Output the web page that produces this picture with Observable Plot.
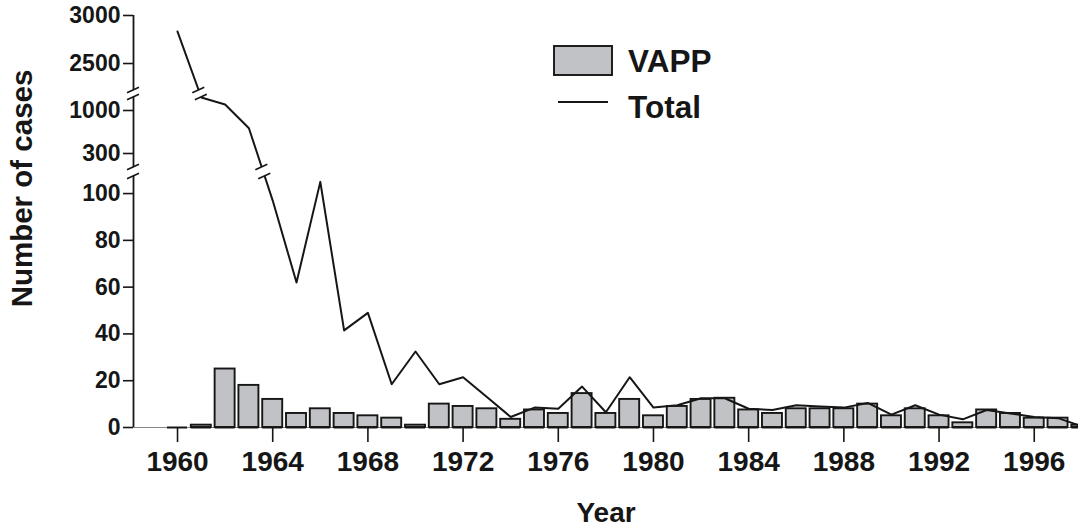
<!DOCTYPE html>
<html><head><meta charset="utf-8">
<script src="https://cdn.jsdelivr.net/npm/d3@7"></script>
<script src="https://cdn.jsdelivr.net/npm/@observablehq/plot@0.6"></script>
<style>
html,body{margin:0;padding:0;background:#fff;overflow:hidden;}
#chart svg{display:block;}
</style>
</head><body><div id="chart"></div>
<script>
// ---- data ----
const years = [1960,1961,1962,1963,1964,1965,1966,1967,1968,1969,
               1970,1971,1972,1973,1974,1975,1976,1977,1978,1979,
               1980,1981,1982,1983,1984,1985,1986,1987,1988,1989,
               1990,1991,1992,1993,1994,1995,1996,1997,1998];
const vapp  = [0,1,25,18,12,6,8,6,5,4,
               1,10,9,8,3.5,7.5,6,14.5,6,12,
               5,9,12,12.5,7.5,6,8,8,8,10,
               5,8,5,2,7.5,6,4,4,1];
const total = [2833,1300,1140,712,97,62,105,41.5,49,18.5,
               32.5,18.5,21.5,13,4.5,8.5,8,17.5,6.5,21.5,
               8.5,9.5,12.5,12.5,8,7.5,9.5,9,8.5,10.5,
               5.5,9.5,5.5,3.5,7.5,6,4.5,4,0.5];
const xTicks = [1960,1964,1968,1972,1976,1980,1984,1988,1992,1996];
const yTicks = [0,20,40,60,80,100,300,1000,2500,3000];
// broken axis: visible value segments and the gaps between them
const ySegments = [[0,107.3],[190,1300],[2219,3000]];
const yBreaks   = [[107.3,190],[1300,2219]];
const seriesNames = ["VAPP","Total"];

// value -> broken-axis units (piecewise axis design of the original)
const brk = d3.scaleLinear()
  .domain([0,107.3,190,300,1000,1300,2219,3000])
  .range([0,251,260,274,317,330,337,412]);

const data = years.map((year,i)=>({year, vapp: vapp[i], total: total[i]}));
const xDomain = [1958.15, 1997.86];
const ink = "#161616", barFill = "#c1c2c6";
const font = "'Liberation Sans', Arial, Helvetica, sans-serif";

const plot = Plot.plot({
  width: 1078, height: 527,
  marginLeft: 133, marginRight: 0, marginTop: 15, marginBottom: 100,
  style: {fontFamily: font, fontWeight: "bold", color: ink, background: "#fff", overflow: "hidden"},
  x: {domain: xDomain, axis: null},
  y: {domain: [brk(0), brk(3000)], axis: null},
  marks: [
    Plot.ruleY([0], {y: d=>brk(d), stroke: "#888", strokeWidth: 1.2}),
    Plot.rect(data, {x1: d=>d.year-0.42, x2: d=>d.year+0.42, y1: d=>brk(0), y2: d=>brk(d.vapp),
                     fill: barFill, stroke: ink, strokeWidth: 1.9}),
    Plot.ruleY(data, {x1: d=>d.year-0.42, x2: d=>d.year+0.42, y: d=>brk(0), stroke: ink, strokeWidth: 2}),
    Plot.line(data, {x: "year", y: d=>brk(d.total), stroke: ink, strokeWidth: 2}),
    Plot.rect(yBreaks, {x1: d=>xDomain[0]+0.03, x2: d=>xDomain[1], y1: d=>brk(d[0]), y2: d=>brk(d[1]), fill: "#fff"}),
    Plot.ruleX(ySegments, {x: d=>xDomain[0], y1: d=>brk(d[0]), y2: d=>brk(d[1]), stroke: ink, strokeWidth: 1.8}),
    Plot.axisY({ticks: yTicks.map(brk), tickFormat: (v,i)=>String(yTicks[i]), tickSize: 10, tickPadding: 3,
                fontSize: 23, fontWeight: "bold", strokeWidth: 1.6, label: null}),
    Plot.axisX({ticks: xTicks, tickFormat: d=>String(d), tickSize: 15, tickPadding: 9,
                fontSize: 28, fontWeight: "bold", strokeWidth: 1.6, label: null}),
    Plot.text(["Number of cases"], {text: d=>d, frameAnchor: "left", textAnchor: "middle", lineAnchor: "middle",
                rotate: -90, dx: -111, dy: -33, fontSize: 29.5, fontWeight: "bold", fill: ink}),
    Plot.text(["Year"], {text: d=>d, frameAnchor: "bottom", textAnchor: "middle", lineAnchor: "middle",
                dy: 86, fontSize: 28, fontWeight: "bold", fill: ink})
  ]
});
document.getElementById("chart").appendChild(plot);

// ---- break markers (slashes) computed through Plot's scales ----
const sx = plot.scale("x"), sy = plot.scale("y");
const X = v => sx.apply(v), Y = v => sy.apply(brk(v));
const svg = d3.select(plot);
const g = svg.append("g").attr("stroke", ink).attr("stroke-width", 1.6).attr("fill", "none");
function slash(cx, cy) {
  g.append("path").attr("d", `M${cx-6},${cy+2.8}L${cx+6},${cy-2.8}`);
}
const pts = data.map(d => [X(d.year), Y(d.total)]);
function crossX(ye) {
  for (let i = 0; i < pts.length-1; i++) {
    const [x0,y0] = pts[i], [x1,y1] = pts[i+1];
    if ((y0-ye)*(y1-ye) <= 0 && y0 !== y1) return x0 + (ye-y0)/(y1-y0)*(x1-x0);
  }
  return null;
}
const axisX0 = X(xDomain[0]);
for (const [lo, hi] of yBreaks) {
  for (const v of [lo, hi]) {
    const ye = Y(v);
    slash(axisX0, ye);
    const cx = crossX(ye);
    if (cx !== null) slash(cx, ye);
  }
}

// ---- legend ----
const lg = svg.append("g").attr("font-family", font).attr("font-weight", "bold")
  .attr("fill", ink).attr("font-size", 31.5).attr("text-anchor", "start");
lg.append("rect").attr("x", 554).attr("y", 46).attr("width", 58).attr("height", 29)
  .attr("fill", barFill).attr("stroke", ink).attr("stroke-width", 1.9);
lg.append("line").attr("x1", 558).attr("x2", 608).attr("y1", 102).attr("y2", 102)
  .attr("stroke", ink).attr("stroke-width", 1.8);
lg.append("text").attr("x", 628).attr("y", 72).text(seriesNames[0]);
lg.append("text").attr("x", 628).attr("y", 118).text(seriesNames[1]);
</script>
</body></html>
